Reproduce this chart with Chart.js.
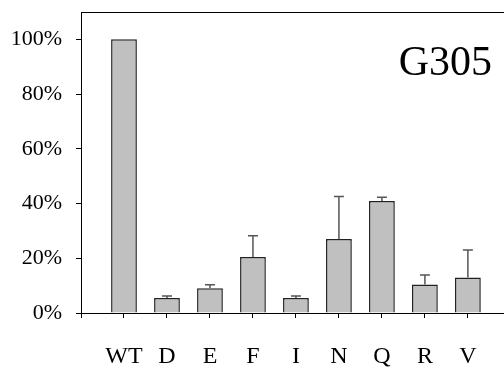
<!DOCTYPE html>
<html>
<head>
<meta charset="utf-8">
<style>
  html, body { margin: 0; padding: 0; background: #fff; }
  #wrap { width: 504px; height: 368px; }
</style>
<script src="https://cdn.jsdelivr.net/npm/chart.js@4.4.1/dist/chart.umd.min.js"></script>
</head>
<body>
<div id="wrap"><canvas id="c"></canvas></div>
<script>
const categories = ['WT', 'D', 'E', 'F', 'I', 'N', 'Q', 'R', 'V'];
const activity = [100, 5.5, 9.0, 20.5, 5.5, 27.0, 40.9, 10.4, 13.0];
const errorTop = [null, 6.2, 10.3, 28.2, 6.2, 42.6, 42.3, 13.9, 23.0];
const yTicks = [0, 20, 40, 60, 80, 100];
const panelLabel = 'G305';

const serif = "'Liberation Serif', 'Times New Roman', serif";

// upper error bars + frame top line + panel label
const extras = {
    id: 'extras',
    afterDatasetsDraw(chart) {
        const { ctx, chartArea, scales } = chart;
        const x = scales.x, y = scales.y;
        ctx.save();
        ctx.strokeStyle = '#555';
        ctx.lineWidth = 1.5;
        errorTop.forEach((e, i) => {
            if (e == null) return;
            const px = x.getPixelForValue(i + 1);
            const y0 = y.getPixelForValue(activity[i]);
            const y1 = y.getPixelForValue(e);
            ctx.beginPath();
            ctx.moveTo(px, y0);
            ctx.lineTo(px, y1);
            ctx.moveTo(px - 5, y1);
            ctx.lineTo(px + 5, y1);
            ctx.stroke();
        });
        ctx.strokeStyle = '#000';
        ctx.lineWidth = 1;
        ctx.beginPath();
        ctx.moveTo(chartArea.left, chartArea.top + 0.5);
        ctx.lineTo(chartArea.right, chartArea.top + 0.5);
        ctx.stroke();
        ctx.fillStyle = '#000';
        ctx.font = '42px ' + serif;
        ctx.textAlign = 'right';
        ctx.textBaseline = 'alphabetic';
        ctx.fillText(panelLabel, chartArea.right - 12, y.getPixelForValue(87));
        ctx.restore();
    }
};

new Chart(document.getElementById('c'), {
    type: 'bar',
    data: {
        datasets: [{
            data: activity.map((v, i) => ({ x: i + 1, y: v })),
            backgroundColor: '#c0c0c0',
            borderColor: '#222',
            borderWidth: 1.5,
            barPercentage: 1,
            categoryPercentage: 0.6
        }]
    },
    options: {
        responsive: true,
        maintainAspectRatio: false,
        animation: false,
        layout: { padding: { top: 12, right: 0, left: 0, bottom: 0 } },
        plugins: { legend: { display: false }, tooltip: { enabled: false } },
        scales: {
            x: {
                type: 'linear',
                offset: false,
                min: 0,
                max: 9.84,
                afterBuildTicks: s => { s.ticks = [{ value: 0 }].concat(categories.map((c, i) => ({ value: i + 1 }))); },
                afterFit: s => { s.height = 55; s.paddingLeft = 0; s.paddingRight = 0; },
                ticks: {
                    autoSkip: false,
                    maxRotation: 0,
                    padding: 24,
                    color: '#000',
                    font: { family: serif, size: 24 },
                    callback: v => categories[v - 1] || ''
                },
                grid: { offset: false, drawOnChartArea: false, drawTicks: true, tickLength: 5, color: '#000' },
                border: { display: true, color: '#000', width: 1 }
            },
            y: {
                min: 0,
                max: 110,
                afterBuildTicks: s => { s.ticks = yTicks.map(v => ({ value: v })); },
                afterFit: s => { s.width = 81; s.paddingTop = 0; s.paddingBottom = 0; },
                ticks: {
                    padding: 14,
                    color: '#000',
                    font: { family: serif, size: 22 },
                    callback: v => v + '%'
                },
                grid: { drawOnChartArea: false, drawTicks: true, tickLength: 5, color: '#000' },
                border: { display: true, color: '#000', width: 1 }
            }
        }
    },
    plugins: [extras]
});
</script>
</body>
</html>
